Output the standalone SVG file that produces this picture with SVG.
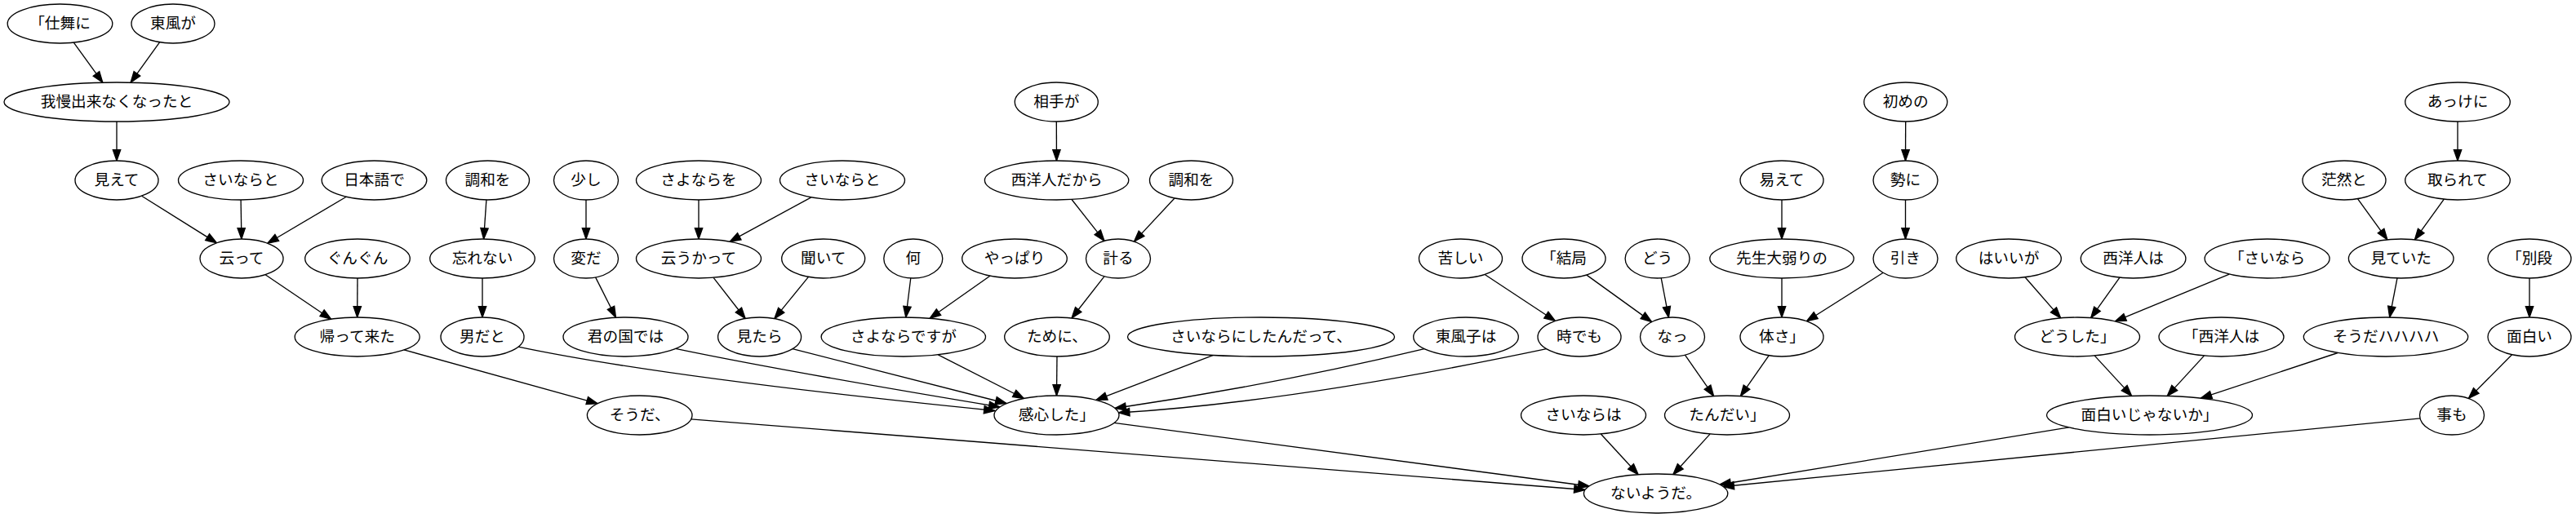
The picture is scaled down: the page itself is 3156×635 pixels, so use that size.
<svg xmlns="http://www.w3.org/2000/svg" width="3156" height="635" viewBox="0 0 3156 635">
<style>
.n ellipse{fill:#fff;stroke:#000;stroke-width:1.33}
.n text{font-family:"Noto Sans CJK JP","Noto Sans CJK SC",sans-serif;font-size:18.67px;text-anchor:middle;fill:#000}
#edges path{fill:none;stroke:#000;stroke-width:1.33;marker-end:url(#arr)}
</style>
<defs>
<marker id="arr" markerUnits="userSpaceOnUse" markerWidth="16" markerHeight="12" refX="13.33" refY="4.67" orient="auto" overflow="visible">
<path d="M0,0 L13.33,4.67 L0,9.33 Z" fill="#000" stroke="#000" stroke-width="1.33"/>
</marker>
</defs>
<rect width="3156" height="635" fill="#fff"/>
<g id="edges">
<path d="M90.3,52.2 L125.8,101.2"/>
<path d="M195.7,51.7 L160.1,101.2"/>
<path d="M143,149 L143,197"/>
<path d="M173.6,240.2 L265.4,297.8"/>
<path d="M295.1,245 L295.9,293"/>
<path d="M424.2,241.3 L327.8,298.2"/>
<path d="M325.1,336.7 L405.6,391.2"/>
<path d="M438,341 L437.7,389"/>
<path d="M495,428.9 L732.1,494.7"/>
<path d="M595.9,245 L592.6,293"/>
<path d="M591,341 L591,389"/>
<path d="M635,425.1 Q815,463 1219,503.5"/>
<path d="M718,245 L718,293"/>
<path d="M729.6,339.9 L754.5,389.3"/>
<path d="M827.6,427.4 Q960,455 1225,499"/>
<path d="M856,245 L856,293"/>
<path d="M993.9,241.8 L894.1,296.2"/>
<path d="M874.1,340.3 L913.1,390.5"/>
<path d="M990.5,339.4 L948.8,390.6"/>
<path d="M971,427.6 L1233,494.5"/>
<path d="M1115.8,340.9 L1109.8,389"/>
<path d="M1212.9,338.2 L1139.1,390.3"/>
<path d="M1149.3,434.8 L1254.5,488.5"/>
<path d="M1294.3,149 L1294.5,197"/>
<path d="M1313,244.5 L1353,295.3"/>
<path d="M1439,243 L1389.5,296.1"/>
<path d="M1353.1,338.7 L1313,390"/>
<path d="M1295,437 L1294.5,485"/>
<path d="M1486.5,435.4 L1343,490.4"/>
<path d="M1745,427.6 Q1560,472 1366,500.5"/>
<path d="M1894.6,427.6 Q1584,493 1370.5,506"/>
<path d="M1819.1,336.5 L1905.4,393.5"/>
<path d="M1943.9,337.1 L2023.6,394.6"/>
<path d="M2035.2,340.8 L2044.4,389.2"/>
<path d="M2064.4,435.1 L2099.6,485.6"/>
<path d="M2183,245 L2183,293"/>
<path d="M2183,341 L2183,389"/>
<path d="M2334.7,149 L2334.5,197"/>
<path d="M2334.5,245 L2334.5,293"/>
<path d="M2307.2,334.3 L2213.4,393.7"/>
<path d="M2167.1,435.8 L2132.4,485.6"/>
<path d="M846.7,513.9 L1942,600.5"/>
<path d="M1365,518.4 L1947,596"/>
<path d="M1961.3,532 L2007.1,581.7"/>
<path d="M2095,532.1 L2049.8,581.7"/>
<path d="M2534.7,523.9 L2107,594"/>
<path d="M2965,512.8 L2111,596.5"/>
<path d="M2481,339.8 L2524.7,389.9"/>
<path d="M2597,340.2 L2561.7,389.6"/>
<path d="M2731.3,336.1 L2591.3,393.9"/>
<path d="M2566.3,436.1 L2611.7,485.4"/>
<path d="M2700.4,436.1 L2655.2,485.4"/>
<path d="M2864.2,432.5 L2696.3,488.2"/>
<path d="M2888.5,243.7 L2924.9,293.8"/>
<path d="M2994.3,244.2 L2958.4,293.8"/>
<path d="M3011,149 L3011,197"/>
<path d="M2937,340.9 L2927.7,389"/>
<path d="M3099,341 L3099,389"/>
<path d="M3077.5,434.8 L3024.4,488.4"/>
</g>
<g id="a1" class="n"><ellipse cx="73.5" cy="29" rx="64.3" ry="24"/><text x="73.5" y="34.5">「仕舞に</text></g>
<g id="a2" class="n"><ellipse cx="212" cy="29" rx="51" ry="24"/><text x="212" y="34.5">東風が</text></g>
<g id="b1" class="n"><ellipse cx="143" cy="125" rx="138" ry="24"/><text x="143" y="130.5">我慢出来なくなったと</text></g>
<g id="b2" class="n"><ellipse cx="1294.3" cy="125" rx="51" ry="24"/><text x="1294.3" y="130.5">相手が</text></g>
<g id="b3" class="n"><ellipse cx="2334.7" cy="125" rx="51" ry="24"/><text x="2334.7" y="130.5">初めの</text></g>
<g id="b4" class="n"><ellipse cx="3011" cy="125" rx="64.3" ry="24"/><text x="3011" y="130.5">あっけに</text></g>
<g id="c1" class="n"><ellipse cx="143" cy="221" rx="51" ry="24"/><text x="143" y="226.5">見えて</text></g>
<g id="c2" class="n"><ellipse cx="295" cy="221" rx="76.5" ry="24"/><text x="295" y="226.5">さいならと</text></g>
<g id="c3" class="n"><ellipse cx="458.5" cy="221" rx="64.3" ry="24"/><text x="458.5" y="226.5">日本語で</text></g>
<g id="c4" class="n"><ellipse cx="597.5" cy="221" rx="51" ry="24"/><text x="597.5" y="226.5">調和を</text></g>
<g id="c5" class="n"><ellipse cx="718" cy="221" rx="39.5" ry="24"/><text x="718" y="226.5">少し</text></g>
<g id="c6" class="n"><ellipse cx="856" cy="221" rx="76.5" ry="24"/><text x="856" y="226.5">さよならを</text></g>
<g id="c7" class="n"><ellipse cx="1032" cy="221" rx="76.5" ry="24"/><text x="1032" y="226.5">さいならと</text></g>
<g id="c8" class="n"><ellipse cx="1294.6" cy="221" rx="88.2" ry="24"/><text x="1294.6" y="226.5">西洋人だから</text></g>
<g id="c9" class="n"><ellipse cx="1459.5" cy="221" rx="51" ry="24"/><text x="1459.5" y="226.5">調和を</text></g>
<g id="c10" class="n"><ellipse cx="2183" cy="221" rx="51" ry="24"/><text x="2183" y="226.5">易えて</text></g>
<g id="c11" class="n"><ellipse cx="2334.5" cy="221" rx="39.5" ry="24"/><text x="2334.5" y="226.5">勢に</text></g>
<g id="c12" class="n"><ellipse cx="2872" cy="221" rx="51" ry="24"/><text x="2872" y="226.5">茫然と</text></g>
<g id="c13" class="n"><ellipse cx="3011" cy="221" rx="64.3" ry="24"/><text x="3011" y="226.5">取られて</text></g>
<g id="d1" class="n"><ellipse cx="296" cy="317" rx="51" ry="24"/><text x="296" y="322.5">云って</text></g>
<g id="d2" class="n"><ellipse cx="438" cy="317" rx="64.3" ry="24"/><text x="438" y="322.5">ぐんぐん</text></g>
<g id="d3" class="n"><ellipse cx="591" cy="317" rx="64.3" ry="24"/><text x="591" y="322.5">忘れない</text></g>
<g id="d4" class="n"><ellipse cx="718" cy="317" rx="39.5" ry="24"/><text x="718" y="322.5">変だ</text></g>
<g id="d5" class="n"><ellipse cx="856" cy="317" rx="76.5" ry="24"/><text x="856" y="322.5">云うかって</text></g>
<g id="d6" class="n"><ellipse cx="1008.7" cy="317" rx="51" ry="24"/><text x="1008.7" y="322.5">聞いて</text></g>
<g id="d7" class="n"><ellipse cx="1118.8" cy="317" rx="36" ry="24"/><text x="1118.8" y="322.5">何</text></g>
<g id="d8" class="n"><ellipse cx="1243" cy="317" rx="64.3" ry="24"/><text x="1243" y="322.5">やっぱり</text></g>
<g id="d9" class="n"><ellipse cx="1370" cy="317" rx="39.5" ry="24"/><text x="1370" y="322.5">計る</text></g>
<g id="d10" class="n"><ellipse cx="1789.5" cy="317" rx="51" ry="24"/><text x="1789.5" y="322.5">苦しい</text></g>
<g id="d11" class="n"><ellipse cx="1916" cy="317" rx="51" ry="24"/><text x="1916" y="322.5">「結局</text></g>
<g id="d12" class="n"><ellipse cx="2030.6" cy="317" rx="39.5" ry="24"/><text x="2030.6" y="322.5">どう</text></g>
<g id="d13" class="n"><ellipse cx="2183" cy="317" rx="88.2" ry="24"/><text x="2183" y="322.5">先生大弱りの</text></g>
<g id="d14" class="n"><ellipse cx="2334.5" cy="317" rx="39.5" ry="24"/><text x="2334.5" y="322.5">引き</text></g>
<g id="d15" class="n"><ellipse cx="2461" cy="317" rx="64.3" ry="24"/><text x="2461" y="322.5">はいいが</text></g>
<g id="d16" class="n"><ellipse cx="2613.6" cy="317" rx="64.3" ry="24"/><text x="2613.6" y="322.5">西洋人は</text></g>
<g id="d17" class="n"><ellipse cx="2777.6" cy="317" rx="76.5" ry="24"/><text x="2777.6" y="322.5">「さいなら</text></g>
<g id="d18" class="n"><ellipse cx="2941.7" cy="317" rx="64.3" ry="24"/><text x="2941.7" y="322.5">見ていた</text></g>
<g id="d19" class="n"><ellipse cx="3099" cy="317" rx="51" ry="24"/><text x="3099" y="322.5">「別段</text></g>
<g id="e1" class="n"><ellipse cx="437.7" cy="413" rx="76.5" ry="24"/><text x="437.7" y="418.5">帰って来た</text></g>
<g id="e2" class="n"><ellipse cx="591" cy="413" rx="51" ry="24"/><text x="591" y="418.5">男だと</text></g>
<g id="e3" class="n"><ellipse cx="766.5" cy="413" rx="76.5" ry="24"/><text x="766.5" y="418.5">君の国では</text></g>
<g id="e4" class="n"><ellipse cx="930.6" cy="413" rx="51" ry="24"/><text x="930.6" y="418.5">見たら</text></g>
<g id="e5" class="n"><ellipse cx="1106.8" cy="413" rx="100.7" ry="24"/><text x="1106.8" y="418.5">さよならですが</text></g>
<g id="e6" class="n"><ellipse cx="1295" cy="413" rx="64.3" ry="24"/><text x="1295" y="418.5">ために、</text></g>
<g id="e7" class="n"><ellipse cx="1545" cy="413" rx="163.5" ry="24"/><text x="1545" y="418.5">さいならにしたんだって、</text></g>
<g id="e8" class="n"><ellipse cx="1796" cy="413" rx="64.3" ry="24"/><text x="1796" y="418.5">東風子は</text></g>
<g id="e9" class="n"><ellipse cx="1935" cy="413" rx="51" ry="24"/><text x="1935" y="418.5">時でも</text></g>
<g id="e10" class="n"><ellipse cx="2049" cy="413" rx="39.5" ry="24"/><text x="2049" y="418.5">なっ</text></g>
<g id="e11" class="n"><ellipse cx="2183" cy="413" rx="51" ry="24"/><text x="2183" y="418.5">体さ」</text></g>
<g id="e12" class="n"><ellipse cx="2545" cy="413" rx="76.5" ry="24"/><text x="2545" y="418.5">どうした」</text></g>
<g id="e13" class="n"><ellipse cx="2721.5" cy="413" rx="76.5" ry="24"/><text x="2721.5" y="418.5">「西洋人は</text></g>
<g id="e14" class="n"><ellipse cx="2923" cy="413" rx="100.7" ry="24"/><text x="2923" y="418.5">そうだハハハハ</text></g>
<g id="e15" class="n"><ellipse cx="3099" cy="413" rx="51" ry="24"/><text x="3099" y="418.5">面白い</text></g>
<g id="f1" class="n"><ellipse cx="783.7" cy="509" rx="64.3" ry="24"/><text x="783.7" y="514.5">そうだ、</text></g>
<g id="f2" class="n"><ellipse cx="1294.5" cy="509" rx="76.5" ry="24"/><text x="1294.5" y="514.5">感心した」</text></g>
<g id="f3" class="n"><ellipse cx="1940" cy="509" rx="76.5" ry="24"/><text x="1940" y="514.5">さいならは</text></g>
<g id="f4" class="n"><ellipse cx="2116" cy="509" rx="76.5" ry="24"/><text x="2116" y="514.5">たんだい」</text></g>
<g id="f5" class="n"><ellipse cx="2633.5" cy="509" rx="126" ry="24"/><text x="2633.5" y="514.5">面白いじゃないか」</text></g>
<g id="f6" class="n"><ellipse cx="3004" cy="509" rx="39.5" ry="24"/><text x="3004" y="514.5">事も</text></g>
<g id="g1" class="n"><ellipse cx="2028.6" cy="605" rx="88.2" ry="24"/><text x="2028.6" y="610.5">ないようだ。</text></g>
</svg>
